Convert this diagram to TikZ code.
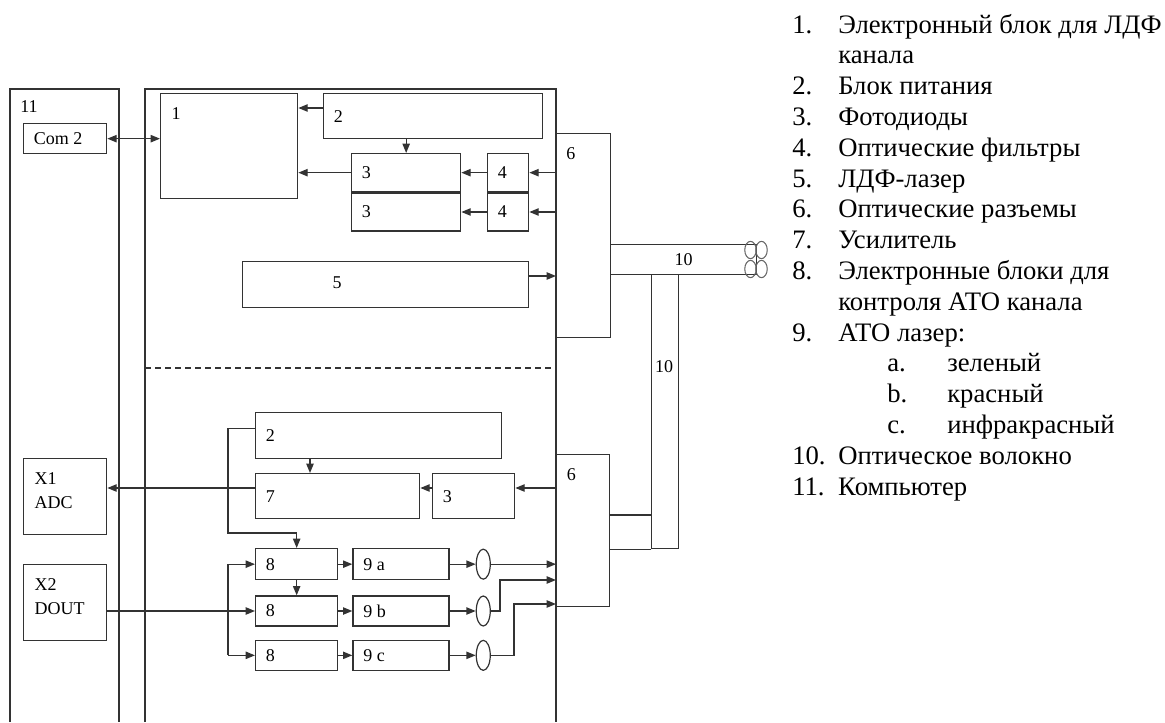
\documentclass[tikz,border=0pt]{standalone}
\usepackage{fontspec}
\setmainfont{Liberation Serif}
\usepackage{tikz}
\usetikzlibrary{arrows.meta,positioning,shapes.geometric}

\newcommand{\itemno}[1]{\makebox[34.5pt][l]{#1}}
\newcommand{\subno}[1]{\makebox[45pt][l]{#1}}

\begin{document}
\begin{tikzpicture}[x=0.75pt,y=-0.75pt,
  box/.style 2 args={draw=black!80,rectangle,anchor=north west,inner sep=0pt,line width=1pt,minimum width=#1*0.75pt,minimum height=#2*0.75pt},
  lens/.style={draw=black!80,ellipse,line width=0.9pt,minimum width=10.5pt,minimum height=22.5pt,inner sep=0pt},
  lbl/.style={inner sep=0pt,font=\fontsize{13.5}{18}\selectfont},
  tag/.style={lbl,right=8pt of #1},
  wire/.style={draw=black!80,line width=1pt},
  arr/.style={wire,-{Triangle[length=7pt,width=5.5pt]}},
  biarr/.style={wire,{Triangle[length=7pt,width=5.5pt]}-{Triangle[length=7pt,width=5.5pt]}},
  leg/.style={anchor=base west,inner sep=0pt,font=\fontsize{20}{23}\selectfont}
]
\useasboundingbox (0,0) rectangle (1165,722);

% Computer (11)
\draw[wire] (10,722) -- (10,89) -- (119,89) -- (119,722);
\node[lbl,anchor=north west] (t11) at (20,100) {11};
\node[box={83}{30}] (com) at (23,123) {};
\node[tag=com.west] (tcom) {Com 2};
\node[box={83}{76}] (adc) at (23,458) {};
\node[lbl,align=left,below right=10.5pt and 8.5pt of adc.north west] (tadc) {X1\\ADC};
\node[box={83}{76}] (dout) at (23,564) {};
\node[lbl,align=left,below right=10.5pt and 8.5pt of dout.north west] (tdout) {X2\\DOUT};

% Measuring unit
\draw[wire] (145,722) -- (145,89) -- (556,89) -- (556,722);

% LDF channel
\node[box={137}{105}] (b1) at (160,93) {};
\node[lbl,below right=10.5pt and 8.5pt of b1.north west] (t1) {1};
\node[box={219}{45}] (b2u) at (323,93) {};
\node[tag=b2u.west] (t2u) {2};
\node[box={109}{38}] (b3a) at (351,153) {};
\node[box={109}{38},below=0pt of b3a] (b3b) {};
\node[tag=b3a.west] (t3a) {3};
\node[tag=b3b.west] (t3b) {3};
\node[box={41}{38}] (b4a) at (487,153) {};
\node[box={41}{38},below=0pt of b4a] (b4b) {};
\node[tag=b4a.west] (t4a) {4};
\node[tag=b4b.west] (t4b) {4};
\node[box={286}{46}] (b5) at (242,261) {};
\node[lbl] (t5) at (337,283) {5};
\node[box={54}{204}] (b6u) at (556,133) {};
\node[lbl,below right=11pt and 7.5pt of b6u.north west] (t6u) {6};

% channel divider
\draw[wire,dash pattern=on 4.5pt off 3pt] (145,368) -- (556,368);

% ATO channel
\node[box={246}{46}] (b2l) at (255,412) {};
\node[tag=b2l.west] (t2l) {2};
\node[box={164}{45}] (b7) at (255,473) {};
\node[tag=b7.west] (t7) {7};
\node[box={82}{45}] (b3l) at (432,473) {};
\node[tag=b3l.west] (t3l) {3};
\node[box={53}{152}] (b6l) at (556,454) {};
\node[lbl,below right=11pt and 8pt of b6l.north west] (t6l) {6};
\node[box={82}{31}] (b8a) at (255,548) {};
\node[box={82}{30},below=11.25pt of b8a] (b8b) {};
\node[box={82}{30},below=9.75pt of b8b] (b8c) {};
\node[tag=b8a.west] (t8a) {8};
\node[tag=b8b.west] (t8b) {8};
\node[tag=b8c.west] (t8c) {8};
\node[box={96}{31},right=10.5pt of b8a] (b9a) {};
\node[box={96}{30},right=10.5pt of b8b] (b9b) {};
\node[box={96}{30},right=10.5pt of b8c] (b9c) {};
\node[tag=b9a.west] (t9a) {9 a};
\node[tag=b9b.west] (t9b) {9 b};
\node[tag=b9c.west] (t9c) {9 c};
\node[lens,right=19.5pt of b9a] (ea) {};
\node[lens,right=19.5pt of b9b] (eb) {};
\node[lens,right=19.5pt of b9c] (ec) {};

% Optical fibre (10)
\node[box={146}{30}] (fibh) at (610,244) {};
\node[lbl] (t10h) at (fibh.center) {10};
\draw[black!60,line width=0.8pt] (750.5,250) ellipse [x radius=4.3pt,y radius=6.5pt];
\draw[black!60,line width=0.8pt] (761.5,250) ellipse [x radius=4.3pt,y radius=6.5pt];
\draw[black!60,line width=0.8pt] (750.5,269) ellipse [x radius=4.3pt,y radius=6.5pt];
\draw[black!60,line width=0.8pt] (761.5,269) ellipse [x radius=4.3pt,y radius=6.5pt];
\node[box={27}{274}] (fibv) at (651,274) {};
\node[lbl] (t10v) at (664,367) {10};
\coordinate (link) at (0,515);
\draw[wire] (b6l.east |- link) -- (fibv.west |- link);
\draw[wire] (b6l.east |- fibv.south) -- (fibv.south west);

% Arrows, LDF channel
\coordinate (row2) at (0,108);
\coordinate (row5) at (0,276);
\draw[biarr] (com.east) -- (com.east -| b1.west);
\draw[arr] (b2u.west |- row2) -- (b1.east |- row2);
\draw[arr] (b2u.south -| b3a.north) -- (b3a.north);
\draw[arr] (b3a.west) -- (b3a.west -| b1.east);
\draw[arr] (b4a.west) -- (b3a.east);
\draw[arr] (b4b.west) -- (b3b.east);
\draw[arr] (b6u.west |- b4a.east) -- (b4a.east);
\draw[arr] (b6u.west |- b4b.east) -- (b4b.east);
\draw[arr] (b5.east |- row5) -- (b6u.west |- row5);

% Arrows, ATO channel
\coordinate (row7) at (0,488);
\coordinate (bus) at (228,533);
\coordinate (fork) at (228,609);
\coordinate (feed) at (310,0);
\coordinate (kb) at (500,580);
\coordinate (kc) at (514,604);
\draw[arr] ([yshift=5.25pt]b2l.west) -| (bus) -| (b8a.north);
\draw[arr] (feed |- b2l.south) -- (feed |- b7.north);
\draw[arr] (b6l.west |- row7) -- (b3l.east |- row7);
\draw[arr] (b3l.west |- row7) -- (b7.east |- row7);
\draw[arr] (b7.west |- row7) -- (adc.east |- row7);
\draw[arr] (dout.east |- b8b.west) -- (b8b.west);
\draw[wire] (fork |- b8a.west) -- (fork |- b8c.west);
\draw[arr] (fork |- b8a.west) -- (b8a.west);
\draw[arr] (fork |- b8c.west) -- (b8c.west);
\draw[arr] (b8a.south) -- (b8b.north);
\draw[arr] (b8a.east) -- (b9a.west);
\draw[arr] (b8b.east) -- (b9b.west);
\draw[arr] (b8c.east) -- (b9c.west);
\draw[arr] (b9a.east) -- (ea.west);
\draw[arr] (b9b.east) -- (eb.west);
\draw[arr] (b9c.east) -- (ec.west);
\draw[arr] (ea.east) -- (ea.east -| b6l.west);
\draw[arr] (eb.east) -| (kb) -- (kb -| b6l.west);
\draw[arr] (ec.east) -| (kc) -- (kc -| b6l.west);

% Legend
\node[leg] (l1) at (792,33) {\itemno{1.}Электронный блок для ЛДФ};
\node[leg] (l1b) at (838,63.8) {канала};
\node[leg] (l2) at (792,94.6) {\itemno{2.}Блок питания};
\node[leg] (l3) at (792,125.4) {\itemno{3.}Фотодиоды};
\node[leg] (l4) at (792,156.2) {\itemno{4.}Оптические фильтры};
\node[leg] (l5) at (792,187) {\itemno{5.}ЛДФ-лазер};
\node[leg] (l6) at (792,217.8) {\itemno{6.}Оптические разъемы};
\node[leg] (l7) at (792,248.6) {\itemno{7.}Усилитель};
\node[leg] (l8) at (792,279.4) {\itemno{8.}Электронные блоки для};
\node[leg] (l8b) at (838,310.2) {контроля АТО канала};
\node[leg] (l9) at (792,341) {\itemno{9.}АТО лазер:};
\node[leg] (l9a) at (887,371.8) {\subno{a.}зеленый};
\node[leg] (l9b) at (887,402.6) {\subno{b.}красный};
\node[leg] (l9c) at (887,433.4) {\subno{c.}инфракрасный};
\node[leg] (l10) at (792,464.2) {\itemno{10.}Оптическое волокно};
\node[leg] (l11) at (792,495) {\itemno{11.}Компьютер};

\end{tikzpicture}
\end{document}
